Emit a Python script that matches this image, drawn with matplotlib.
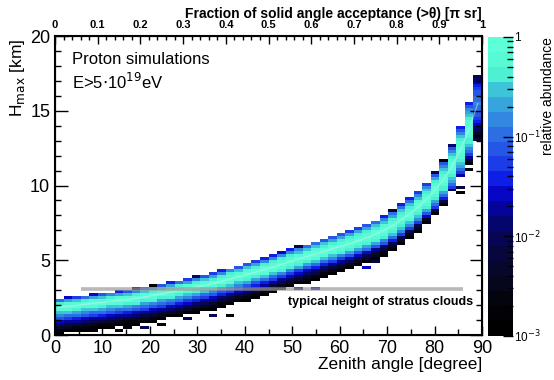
import numpy as np
import matplotlib
matplotlib.use('Agg')
import matplotlib.pyplot as plt
from matplotlib.colors import ListedColormap, LogNorm
from matplotlib.ticker import MultipleLocator, LogLocator, NullFormatter

plt.rcParams['font.family'] = ['Liberation Sans', 'DejaVu Sans']

# binning of the histogram (zenith 1.8 deg, Hmax 0.2 km)
zenith_edges = np.linspace(0, 90, 51)
hmax_edges = np.linspace(0, 20, 101)

# peak of the Hmax distribution in each zenith bin [km]
hmax_peak = [1.85, 1.92, 1.98, 2.05, 2.12, 2.18, 2.25, 2.32, 2.38, 2.45,
             2.55, 2.65, 2.75, 2.86, 2.97, 3.08, 3.20, 3.32, 3.45, 3.60,
             3.75, 3.90, 4.05, 4.20, 4.38, 4.55, 4.72, 4.90, 5.08, 5.25,
             5.42, 5.60, 5.78, 5.95, 6.10, 6.30, 6.50, 6.75, 7.00, 7.30,
             7.70, 8.10, 8.55, 9.10, 9.70, 10.4, 11.3, 12.4, 13.8, 15.5]
# width of the core of the distribution in each zenith bin [km]
hmax_spread = [0.20, 0.20, 0.20, 0.20, 0.20, 0.21, 0.21, 0.21, 0.21, 0.22,
               0.22, 0.22, 0.22, 0.23, 0.23, 0.23, 0.24, 0.24, 0.24, 0.25,
               0.25, 0.25, 0.26, 0.26, 0.26, 0.27, 0.27, 0.28, 0.28, 0.28,
               0.29, 0.29, 0.30, 0.30, 0.31, 0.31, 0.32, 0.32, 0.33, 0.34,
               0.35, 0.36, 0.37, 0.39, 0.41, 0.44, 0.48, 0.53, 0.60, 0.65]
# maximum abundance per zenith bin (last bin is cut by the axis)
column_norm = [1.0, 1.0, 1.0, 1.0, 1.0, 1.0, 1.0, 1.0, 1.0, 1.0,
               1.0, 1.0, 1.0, 1.0, 1.0, 1.0, 1.0, 1.0, 1.0, 1.0,
               1.0, 1.0, 1.0, 1.0, 1.0, 1.0, 1.0, 1.0, 1.0, 1.0,
               1.0, 1.0, 1.0, 1.0, 1.0, 1.0, 1.0, 1.0, 1.0, 1.0,
               1.0, 1.0, 1.0, 1.0, 1.0, 1.0, 1.0, 1.0, 1.0, 0.15]

# core shape: offset from the peak (in units of spread) vs abundance
core_offset = [-3.6, -3.5, -3.0, -2.25, -1.5, 0.0, 1.5, 2.25, 2.9, 3.0]
core_abundance = [0.0001, 0.005, 0.04, 0.15, 0.4, 1.0, 0.35, 0.12, 0.03,
                  0.0001]
# deep tail: distance below the peak [km] vs abundance
tail_depth = [-1.85, -1.75, -1.55, -1.35, -1.15, -0.95, -0.75, -0.55,
              -0.4, 0.0]
tail_abundance = [0.0001, 0.0011, 0.002, 0.005, 0.012, 0.03, 0.07, 0.17,
                  0.3, 1.0]

# isolated cells outside the main band
outlier_col = [0, 4, 7, 8, 8, 10, 12, 15, 18, 20, 28, 30, 36, 37, 38, 39,
               47, 47, 48, 48, 49]
outlier_h = [0.13, 0.22, 0.29, 0.4, 0.7, 0.4, 0.62, 1.16, 1.36, 1.27, 3.0,
             3.1, 4.57, 4.87, 5.2, 5.8, 9.5, 9.8, 11.2, 11.4, 13.2]
outlier_val = [0.0015, 0.0015, 0.0015, 0.0015, 0.0015, 0.008, 0.0015,
               0.008, 0.008, 0.0015, 0.008, 0.03, 0.03, 0.006, 0.0015,
               0.0015, 0.0015, 0.006, 0.0015, 0.0015, 0.006]

stratus_height = 3.1
stratus_zenith = [5.5, 86.0]

palette = ['#000000', '#020206', '#04040f', '#06061c', '#07072b',
           '#07073d', '#060654', '#05056e', '#04049a', '#0606c4',
           '#0e1ee6', '#1c3ce8', '#2656e6', '#2c6ee4', '#3288e0',
           '#38a4dc', '#3ec4d8', '#4ef0d4', '#56fad4', '#5cffd8']

h_centers = 0.5 * (hmax_edges[:-1] + hmax_edges[1:])
z_centers = 0.5 * (zenith_edges[:-1] + zenith_edges[1:])
grid = np.zeros((len(h_centers), len(z_centers)))
for j in range(len(z_centers)):
    dh = h_centers - hmax_peak[j]
    core = 10 ** np.interp(dh / hmax_spread[j], core_offset,
                           np.log10(core_abundance), left=-9, right=-9)
    tail = 10 ** np.interp(dh, tail_depth, np.log10(tail_abundance),
                           left=-9, right=-9)
    tail[dh > 0] = 0
    grid[:, j] = column_norm[j] * np.maximum(core, tail)
for c, h, v in zip(outlier_col, outlier_h, outlier_val):
    i = int(h / 0.2)
    grid[i, c] = max(grid[i, c], v)
grid = np.ma.masked_less(grid, 1e-3)

fig = plt.figure(figsize=(5.54, 3.8), dpi=100)
ax = fig.add_axes([0.0993, 0.1184, 0.7708, 0.7868])
cax = fig.add_axes([0.881, 0.116, 0.045, 0.787])

cmap = ListedColormap(palette)
mesh = ax.pcolormesh(zenith_edges, hmax_edges, grid, cmap=cmap,
                     norm=LogNorm(vmin=1e-3, vmax=1))
ax.plot(z_centers, hmax_peak, color='#e8e8e8', lw=1, alpha=0.45)
ax.plot(stratus_zenith, [stratus_height, stratus_height], color='#9a9a9a',
        lw=2.6, alpha=0.7, solid_capstyle='butt')
ax.text(68.7, stratus_height - 0.9, 'typical height of stratus clouds',
        fontsize=9, fontweight='bold', ha='center', va='center')

ax.text(3.6, 18.4, 'Proton simulations', fontsize=12, va='center')
ax.text(3.6, 16.95, 'E>5$\\cdot$10$^{19}$eV', fontsize=12, va='center')

ax.set_xlim(0, 90)
ax.set_ylim(0, 20)
ax.xaxis.set_major_locator(MultipleLocator(10))
ax.xaxis.set_minor_locator(MultipleLocator(5))
ax.yaxis.set_major_locator(MultipleLocator(5))
ax.yaxis.set_minor_locator(MultipleLocator(1))
ax.tick_params(which='both', direction='in', top=False, right=True,
               labelsize=13)
ax.tick_params(axis='y', which='major', length=9, width=1)
ax.tick_params(axis='y', which='minor', length=4.5, width=1)
ax.tick_params(axis='x', which='major', length=6.5, width=1)
ax.tick_params(axis='x', which='minor', length=4, width=1)
ax.set_xlabel('Zenith angle [degree]', fontsize=12.5, ha='right', x=1.0,
              labelpad=0)
ax.set_ylabel('H$_{\\rm max}$ [km]', fontsize=12.5, ha='right', y=0.99,
              labelpad=2)
for s in ax.spines.values():
    s.set_linewidth(1.5)

ax2 = ax.twiny()
ax2.set_xlim(0, 1)
ax2.xaxis.set_minor_locator(MultipleLocator(0.02))
ax2.set_xticks(np.arange(0, 1.01, 0.1))
ax2.set_xticklabels(['0', '0.1', '0.2', '0.3', '0.4', '0.5', '0.6', '0.7',
                     '0.8', '0.9', '1'], fontweight='bold')
ax2.tick_params(which='both', direction='in', labelsize=8, pad=4)
ax2.tick_params(which='major', length=6, width=1)
ax2.tick_params(which='minor', length=3, width=1)
ax2.set_xlabel('Fraction of solid angle acceptance (>θ) [π sr]',
               fontsize=10, fontweight='bold', ha='right', x=1.0,
               labelpad=2)

cb = fig.colorbar(mesh, cax=cax)
cb.outline.set_visible(False)
cb.set_ticks([1e-3, 1e-2, 1e-1, 1])
cb.set_ticklabels(['10$^{-3}$', '10$^{-2}$', '10$^{-1}$', '1'])
cax.yaxis.set_minor_locator(LogLocator(base=10, subs=np.arange(2, 10)))
cax.yaxis.set_minor_formatter(NullFormatter())
cax.tick_params(which='both', direction='in', labelsize=8.5, pad=1)
cax.tick_params(which='major', length=7, width=1)
cax.tick_params(which='minor', length=4, width=1)
cb.set_label('relative abundance', fontsize=10, ha='right', va='center')
cax.yaxis.set_label_coords(2.4, 1.0)

fig.savefig('out.png', dpi=100)
